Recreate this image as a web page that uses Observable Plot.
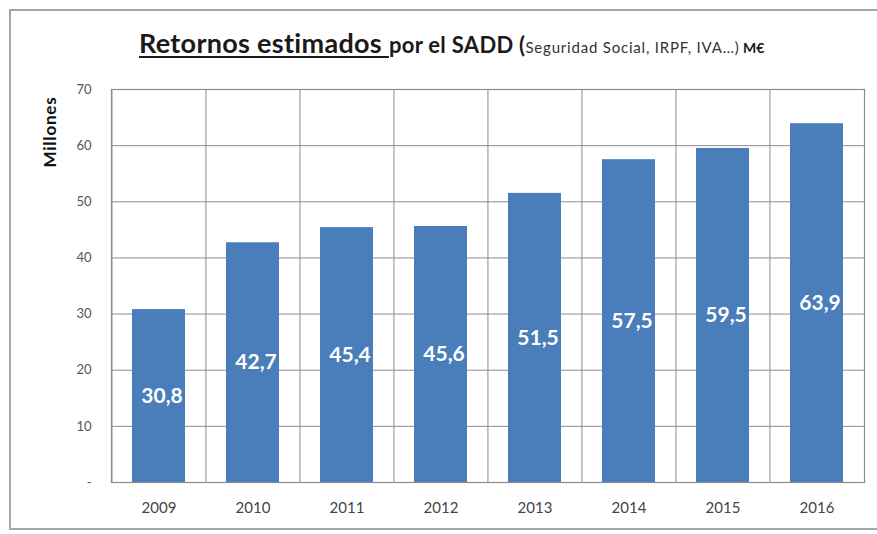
<!DOCTYPE html>
<html>
<head>
<meta charset="utf-8">
<script src="https://cdn.jsdelivr.net/npm/d3@7"></script>
<script src="https://cdn.jsdelivr.net/npm/@observablehq/plot@0.6"></script>
<style>
  html, body { margin: 0; padding: 0; background: #fff; }
  #wrap { position: relative; width: 877px; height: 534px; overflow: hidden; font-family: Lato, "Open Sans", sans-serif; }
  #frame { position: absolute; left: 9px; top: 9px; width: 900px; height: 521px; border: 2px solid #a6a6a6; box-sizing: border-box; }
  #title { position: absolute; left: 139px; top: 26px; white-space: nowrap; color: #1a1a1a; font-weight: bold; }
  #title .a { font-size: 27px; letter-spacing: 0.3px; text-decoration: underline; text-decoration-thickness: 2px; text-underline-offset: 3px; }
  #title .b { font-size: 22px; letter-spacing: 0.3px; }
  #title .c { font-size: 15px; font-weight: normal; color: #333; letter-spacing: 0.8px; }
  #title .d { font-size: 14px; }
  #chart { position: absolute; left: 0; top: 0; }
</style>
</head>
<body>
<div id="wrap">
  <div id="frame"></div>
  <div id="title"><span class="a">Retornos estimados </span><span class="b">por el SADD (</span><span class="c">Seguridad Social, IRPF, IVA…)</span><span class="d"> M€</span></div>
  <div id="chart"></div>
</div>
<script>
const years = ["2009", "2010", "2011", "2012", "2013", "2014", "2015", "2016"];
const values = [30.8, 42.7, 45.4, 45.6, 51.5, 57.5, 59.5, 63.9];
const yTicks = [0, 10, 20, 30, 40, 50, 60, 70];

const data = years.map((y, i) => ({year: y, value: values[i]}));

const W = 877, H = 534;
const mL = 111, mR = 13, mT = 89, mB = 52;
const step = (W - mL - mR) / years.length;

const chart = Plot.plot({
  width: W,
  height: H,
  marginLeft: mL,
  marginRight: mR,
  marginTop: mT,
  marginBottom: mB,
  style: { fontFamily: "Lato, 'Open Sans', sans-serif", background: "transparent" },
  x: { domain: years, paddingInner: 0.44, paddingOuter: 0.22, label: null },
  y: { domain: [0, 70], label: null },
  marks: [
    Plot.ruleY(yTicks, { y: d => d, stroke: "#8c8c8c", strokeWidth: 1 }),
    Plot.ruleX(years, { x: d => d, dx: -step / 2, stroke: "#8c8c8c", strokeWidth: 1 }),
    Plot.barY(data, { x: "year", y: "value", fill: "#4a7ebb" }),
    Plot.frame({ stroke: "#8c8c8c", strokeWidth: 1.2 }),
    Plot.text(data, {
      x: "year", y: d => d.value / 2, text: d => d.value.toFixed(1).replace(".", ","),
      fill: "white", fontSize: 21, fontWeight: "bold", dx: 3
    }),
    Plot.axisY(yTicks, {
      tickSize: 0, tickPadding: 20, fontSize: 13, fill: "#555",
      tickFormat: d => d === 0 ? "-" : String(d), label: null
    }),
    Plot.axisX({
      tickSize: 0, tickPadding: 20, fontSize: 15, fill: "#444", label: null
    })
  ]
});

document.getElementById("chart").appendChild(chart);

// Y-axis title
const svg = d3.select(chart);
svg.append("text")
  .attr("transform", "translate(56,132) rotate(-90)")
  .attr("text-anchor", "middle")
  .attr("font-size", 17)
  .attr("letter-spacing", "0.8px")
  .attr("font-weight", "bold")
  .attr("fill", "#111")
  .attr("font-family", "Lato, 'Open Sans', sans-serif")
  .text("Millones");
</script>
</body>
</html>
